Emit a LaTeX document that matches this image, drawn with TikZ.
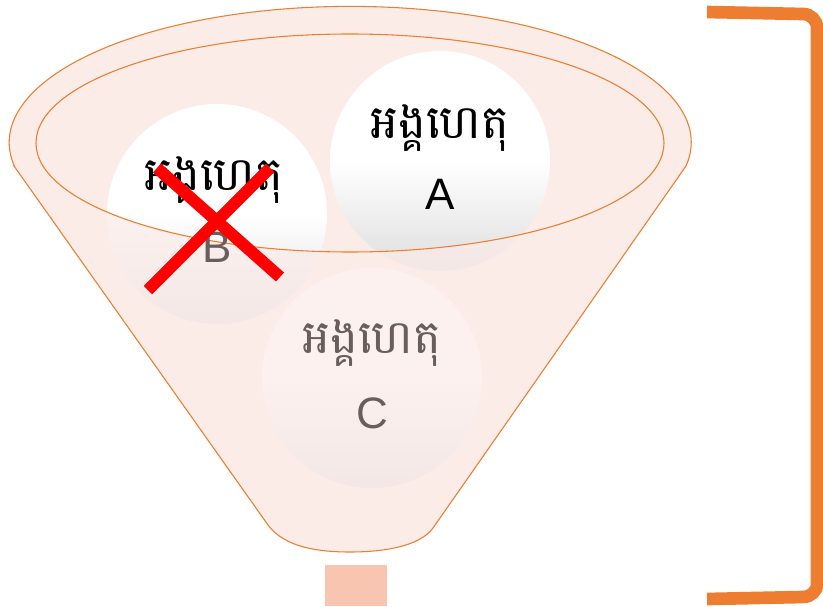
\documentclass[tikz,border=0pt]{standalone}
\usepackage{fontspec}
\setmainfont{Liberation Sans}
\newfontfamily\khmerfont[Script=Khmer]{Battambang}
\definecolor{funnelpink}{RGB}{251,236,232}
\definecolor{rimorange}{RGB}{237,125,49}
\definecolor{spoutpink}{RGB}{247,197,176}
\definecolor{fadedtext}{RGB}{105,94,91}
\newcommand{\funnelshape}{(14,166) -- (268,525) .. controls (285,548) and (320,552) .. (350,552) .. controls (385,552) and (420,546) .. (433,528) -- (686,166) arc[start angle=10, end angle=-190, x radius=341, y radius=136] -- cycle}

\begin{document}
\begin{tikzpicture}[x=0.75pt, y=-0.75pt,
    ball/.style={circle, minimum size=165pt, inner sep=0pt, top color=white, bottom color=black!13, middle color=white},
    fact/.style={font=\khmerfont\fontsize{35}{40}\selectfont},
    letter/.style={font=\fontsize{33}{38}\selectfont},
    rim/.style={draw=rimorange, line width=0.8pt}
]
\useasboundingbox (0,0) rectangle (823,606);

% Funnel back
\fill[funnelpink] \funnelshape;

% Facts
\node[ball] (circA) at (440,161) {};
\node[ball] (circB) at (217,214) {};
\node[ball] (circC) at (372,378) {};
\node[fact] (factA) at (440,128) {អង្គហេតុ};
\node[letter] (letA) at (440,194) {A};
\node[fact] (factB) at (214,180) {អង្គហេតុ};

% Funnel front
\fill[funnelpink, opacity=0.72, even odd rule] \funnelshape (350,143) ellipse [x radius=314, y radius=109];
\draw[rim] \funnelshape;
\draw[rim] (350,143) ellipse [x radius=314, y radius=109];

% Faded labels
\node[letter, text=fadedtext] (letB) at (217,247) {B};
\node[fact, text=fadedtext] (factC) at (372,343) {អង្គហេតុ};
\node[letter, text=fadedtext] (letC) at (372,413) {C};

% Cross on B
\draw[red, line width=9pt] (148,290) -- (270,168);
\draw[red, line width=9pt] (157,168) -- (280,277);

% Spout and bracket
\node[fill=spoutpink, minimum width=46.5pt, minimum height=30.75pt, inner sep=0pt, anchor=north] (spout) at (356,565) {};
\draw[rimorange, line width=9.5pt] (707,12) -- (803,14) to[out=0, in=90] (817,28) -- (817,584) to[out=-90, in=0] (803,597) -- (707,599);

\end{tikzpicture}
\end{document}
